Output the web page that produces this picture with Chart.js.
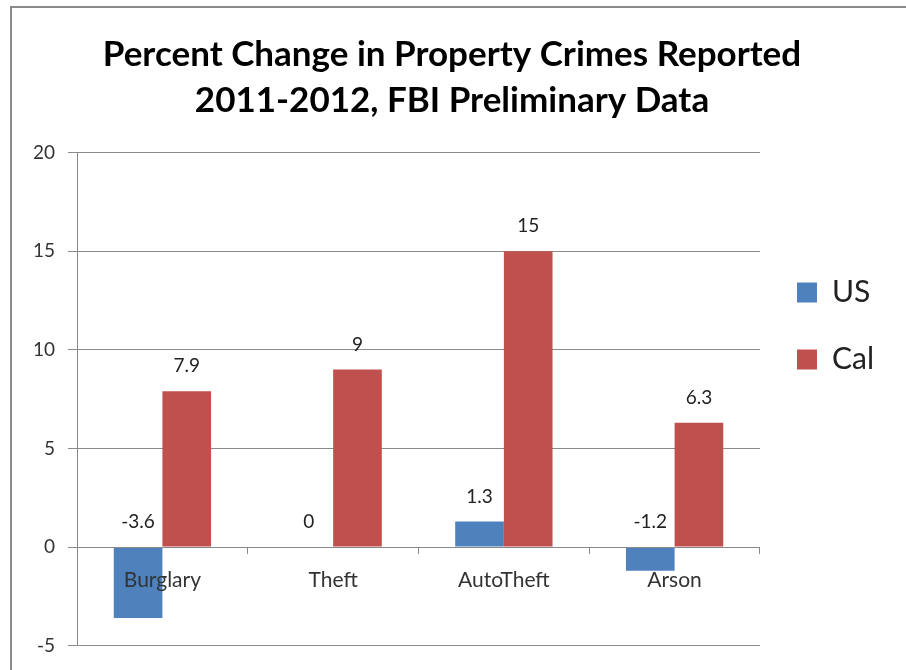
<!DOCTYPE html>
<html lang="en">
<head>
  <meta charset="UTF-8">
  <title>Percent Change in Property Crimes Reported</title>
  <style>
    body {
      margin: 0;
      background: #ffffff;
      overflow: hidden;
    }

    .frame {
      position: absolute;
      left: 10px;
      top: 6px;
      width: 940px;
      height: 700px;
      border: 2px solid #8a8a8a;
      pointer-events: none;
    }

    canvas {
      position: absolute;
      left: 0;
      top: 0;
    }
  </style>
</head>
<body>
  <canvas id="crimeChart" width="906" height="670"></canvas>
  <div class="frame"></div>

  <script src="https://cdn.jsdelivr.net/npm/chart.js"></script>
  <script>
    const categories = ['Burglary', 'Theft', 'AutoTheft', 'Arson'];
    const usValues = [-3.6, 0, 1.3, -1.2];
    const calValues = [7.9, 9, 15, 6.3];
    const titleLines = ['Percent Change in Property Crimes Reported', '2011-2012, FBI Preliminary Data'];

    const FONT = 'Lato, "Open Sans", sans-serif';

    // value labels above each bar (above the zero line for negatives)
    const valueLabels = {
      id: 'valueLabels',
      afterDatasetsDraw(chart) {
        const ctx = chart.ctx;
        const yScale = chart.scales.y;
        ctx.save();
        ctx.font = '19px ' + FONT;
        ctx.fillStyle = '#222';
        ctx.textAlign = 'center';
        ctx.textBaseline = 'middle';
        chart.data.datasets.forEach((ds, i) => {
          chart.getDatasetMeta(i).data.forEach((bar, j) => {
            const v = ds.data[j];
            const y = yScale.getPixelForValue(Math.max(v, 0)) - 25;
            ctx.fillText(String(v), bar.x, y);
          });
        });
        ctx.restore();
      }
    };

    new Chart(document.getElementById('crimeChart'), {
      type: 'bar',
      data: {
        labels: categories,
        datasets: [
          { label: 'US', data: usValues, backgroundColor: '#4f81bd' },
          { label: 'Cal', data: calValues, backgroundColor: '#c0504d' }
        ]
      },
      options: {
        responsive: false,
        animation: false,
        layout: { padding: { left: 20, right: 22, top: 6, bottom: 24 } },
        datasets: {
          bar: { categoryPercentage: 0.57, barPercentage: 1.0 }
        },
        scales: {
          x: {
            position: { y: 0 },
            grid: {
              drawOnChartArea: false,
              drawTicks: true,
              tickLength: 6,
              color: '#8a8a8a'
            },
            border: { display: true, color: '#8a8a8a', z: 1 },
            ticks: {
              z: 1,
              padding: 15,
              color: '#333',
              font: { family: FONT, size: 21 }
            }
          },
          y: {
            min: -5,
            max: 20,
            ticks: {
              stepSize: 5,
              padding: 13,
              color: '#333',
              font: { family: FONT, size: 19 }
            },
            grid: {
              color: '#8a8a8a',
              tickLength: 9
            },
            border: { display: true, color: '#8a8a8a' }
          }
        },
        plugins: {
          title: {
            display: true,
            text: titleLines,
            color: '#000',
            font: { family: FONT, size: 35, weight: 'bold', lineHeight: 1.31 },
            padding: { top: 26, bottom: 29 }
          },
          legend: {
            position: 'right',
            labels: {
              boxWidth: 20,
              boxHeight: 20,
              padding: 37,
              color: '#222',
              font: { family: FONT, size: 30 }
            }
          },
          tooltip: { enabled: false }
        }
      },
      plugins: [valueLabels]
    });
  </script>
</body>
</html>
